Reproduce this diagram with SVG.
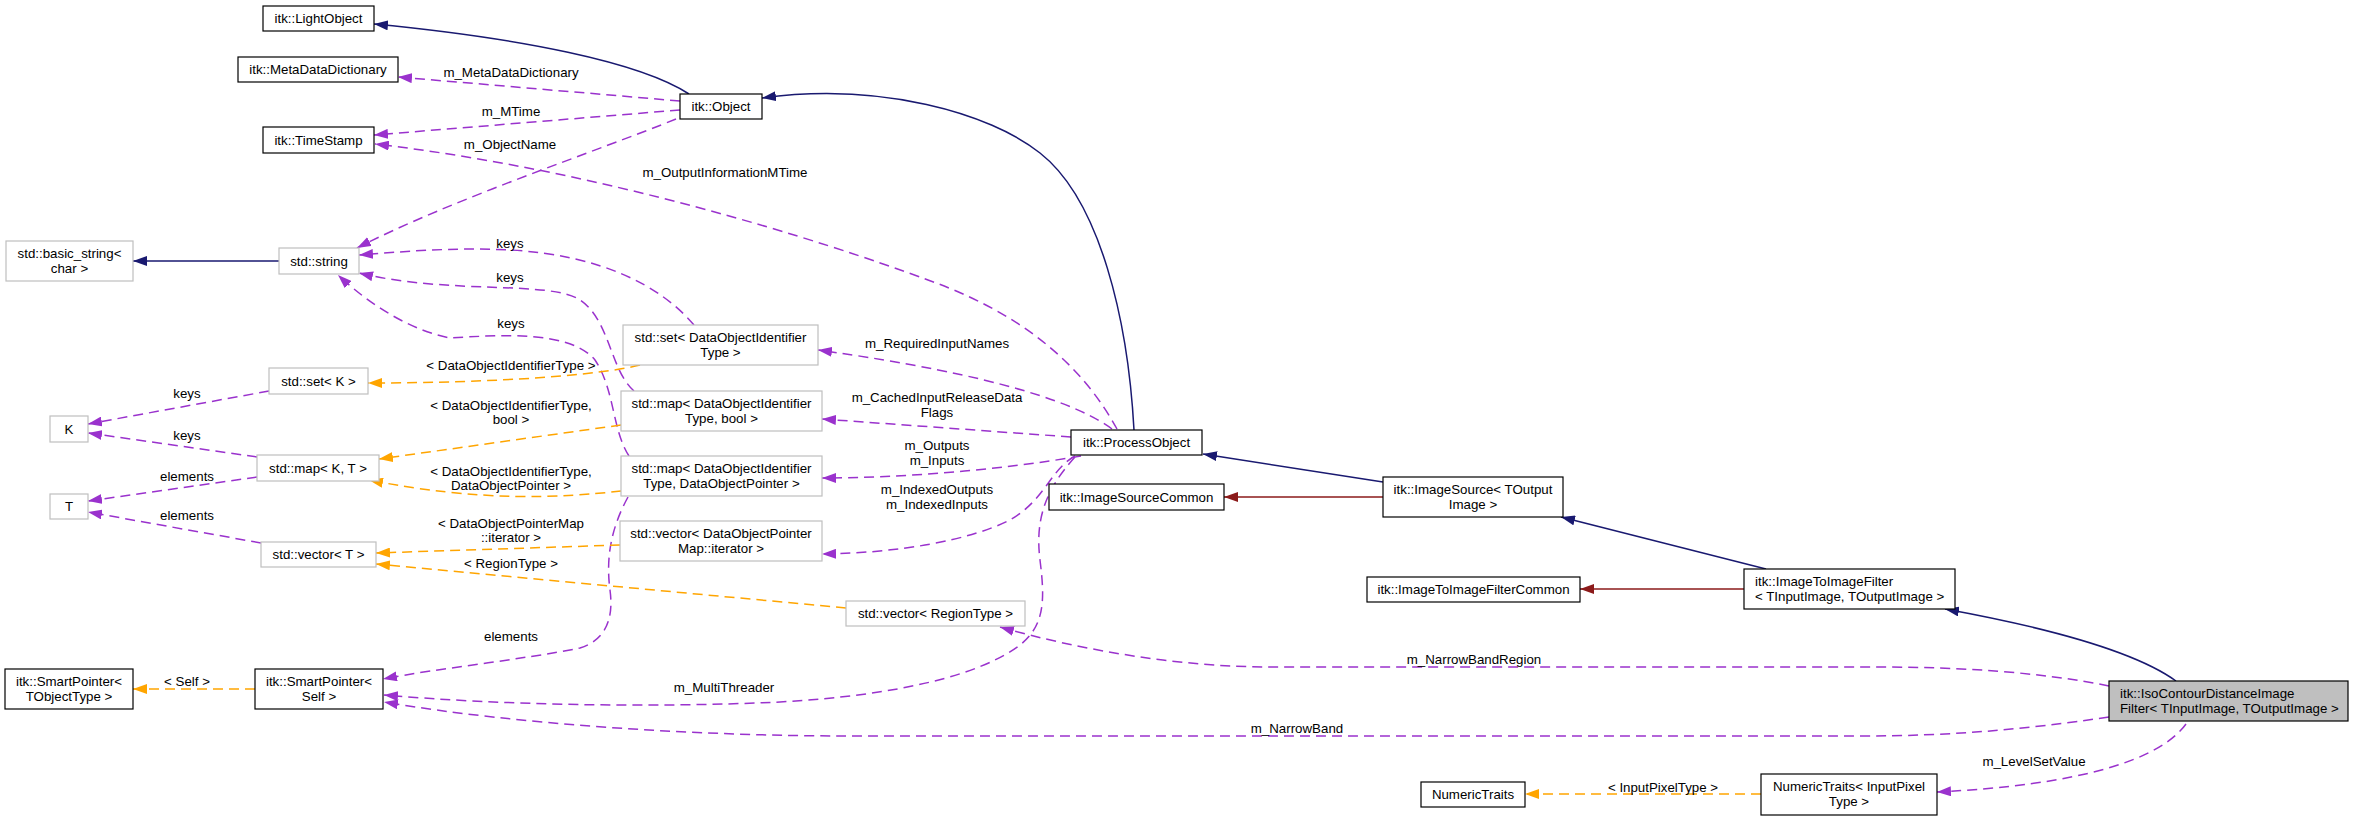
<svg xmlns="http://www.w3.org/2000/svg" width="2353" height="821" viewBox="0 0 2353 821">
<style>
text{font-family:"Liberation Sans",Arial,sans-serif;font-size:13.3px;fill:#000}
.c{text-anchor:middle}
.nb{fill:#fff;stroke:#000;stroke-width:1.2}
.ng{fill:#fff;stroke:#bfbfbf;stroke-width:1.2}
.nf{fill:#bfbfbf;stroke:#000;stroke-width:1.2}
.inh{fill:none;stroke:#191970;stroke-width:1.5;marker-end:url(#aBlue)}
.pri{fill:none;stroke:#8b1a1a;stroke-width:1.5;marker-end:url(#aRed)}
.use{fill:none;stroke:#9a32cd;stroke-width:1.5;stroke-dasharray:10,6;marker-end:url(#aPurple)}
.tpl{fill:none;stroke:#ffa500;stroke-width:1.5;stroke-dasharray:10,6;marker-end:url(#aOrange)}
</style>
<defs>
<marker id="aBlue" viewBox="0 0 14 10" refX="14" refY="5" markerWidth="14" markerHeight="10" markerUnits="userSpaceOnUse" orient="auto"><path d="M0,0 L14,5 L0,10 z" fill="#191970"/></marker>
<marker id="aRed" viewBox="0 0 14 10" refX="14" refY="5" markerWidth="14" markerHeight="10" markerUnits="userSpaceOnUse" orient="auto"><path d="M0,0 L14,5 L0,10 z" fill="#8b1a1a"/></marker>
<marker id="aPurple" viewBox="0 0 14 10" refX="14" refY="5" markerWidth="14" markerHeight="10" markerUnits="userSpaceOnUse" orient="auto"><path d="M0,0 L14,5 L0,10 z" fill="#9a32cd"/></marker>
<marker id="aOrange" viewBox="0 0 14 10" refX="14" refY="5" markerWidth="14" markerHeight="10" markerUnits="userSpaceOnUse" orient="auto"><path d="M0,0 L14,5 L0,10 z" fill="#ffa500"/></marker>
</defs>
<rect width="2353" height="821" fill="#fff"/>
<g id="connectors">
<path class="inh" d="M689,94 C640,62 520,38 374,24"/>
<path class="inh" d="M1134,430 C1128,320 1100,200 1040,153 C990,113 880,82 762,98"/>
<path class="inh" d="M279,261 L133,261"/>
<path class="inh" d="M1383,482 L1203,454"/>
<path class="inh" d="M1766,569 L1561,517"/>
<path class="inh" d="M2176,681 C2140,655 2060,630 1945,609"/>
<path class="pri" d="M1383,497 L1224,497"/>
<path class="pri" d="M1744,589 L1580,589"/>
<path class="use" d="M680,101 L398,77"/>
<path class="use" d="M680,110 L374,135"/>
<path class="use" d="M676,119 C600,150 450,200 357,248"/>
<path class="use" d="M1117,429 C1090,380 1040,320 928,280 C820,240 600,170 375,144"/>
<path class="use" d="M694,325 C660,285 600,255 510,250 C450,247 400,252 359,255"/>
<path class="use" d="M634,391 C610,370 610,320 580,300 C550,280 450,295 359,273"/>
<path class="use" d="M629,456 C612,430 615,390 595,360 C570,330 500,335 450,338 C410,330 370,305 338,275"/>
<path class="use" d="M269,391 L88,424"/>
<path class="use" d="M257,457 L88,433"/>
<path class="use" d="M257,477 L88,501"/>
<path class="use" d="M261,543 L88,512"/>
<path class="use" d="M1112,429 C1080,405 1000,375 818,350"/>
<path class="use" d="M1071,437 L822,419"/>
<path class="use" d="M1081,456 C1000,470 900,478 822,478"/>
<path class="use" d="M1075,456 C1050,470 1045,500 1010,520 C970,540 900,553 822,554"/>
<path class="use" d="M1075,457 C1045,490 1035,520 1040,560 C1045,600 1045,625 1020,645 C980,675 900,695 780,702 C650,708 500,705 384,695"/>
<path class="use" d="M628,497 C610,530 606,560 610,590 C614,620 605,640 580,648 C520,660 440,668 383,679"/>
<path class="use" d="M2109,686 C2040,672 1960,667 1880,667 L1270,667 C1180,667 1080,650 1000,627"/>
<path class="use" d="M2109,717 C2020,730 1950,736 1860,736 L850,736 C700,736 520,725 384,702"/>
<path class="use" d="M2186,724 C2160,760 2080,785 1937,792"/>
<path class="tpl" d="M640,365 C600,375 500,383 368,383"/>
<path class="tpl" d="M621,425 L379,459"/>
<path class="tpl" d="M621,491 C560,498 480,502 369,480"/>
<path class="tpl" d="M620,545 L376,553"/>
<path class="tpl" d="M846,608 L376,564"/>
<path class="tpl" d="M255,689 L133,689"/>
<path class="tpl" d="M1761,794 L1525,794"/>
<g id="edge-labels">
<text class="c" x="511" y="77">m_MetaDataDictionary</text>
<text class="c" x="511" y="116">m_MTime</text>
<text class="c" x="510" y="149">m_ObjectName</text>
<text class="c" x="725" y="177">m_OutputInformationMTime</text>
<text class="c" x="510" y="248">keys</text>
<text class="c" x="510" y="282">keys</text>
<text class="c" x="511" y="328">keys</text>
<text class="c" x="187" y="398">keys</text>
<text class="c" x="187" y="440">keys</text>
<text class="c" x="187" y="481">elements</text>
<text class="c" x="187" y="520">elements</text>
<text class="c" x="937" y="348">m_RequiredInputNames</text>
<text class="c" x="937" y="402">m_CachedInputReleaseData</text>
<text class="c" x="937" y="417">Flags</text>
<text class="c" x="937" y="450">m_Outputs</text>
<text class="c" x="937" y="465">m_Inputs</text>
<text class="c" x="937" y="494">m_IndexedOutputs</text>
<text class="c" x="937" y="509">m_IndexedInputs</text>
<text class="c" x="724" y="692">m_MultiThreader</text>
<text class="c" x="511" y="641">elements</text>
<text class="c" x="1474" y="664">m_NarrowBandRegion</text>
<text class="c" x="1297" y="733">m_NarrowBand</text>
<text class="c" x="2034" y="766">m_LevelSetValue</text>
<text class="c" x="511" y="370">&lt; DataObjectIdentifierType &gt;</text>
<text class="c" x="511" y="410">&lt; DataObjectIdentifierType,</text>
<text class="c" x="511" y="424">bool &gt;</text>
<text class="c" x="511" y="476">&lt; DataObjectIdentifierType,</text>
<text class="c" x="511" y="490">DataObjectPointer &gt;</text>
<text class="c" x="511" y="528">&lt; DataObjectPointerMap</text>
<text class="c" x="511" y="542">::iterator &gt;</text>
<text class="c" x="511" y="568">&lt; RegionType &gt;</text>
<text class="c" x="187" y="686">&lt; Self &gt;</text>
<text class="c" x="1663" y="792">&lt; InputPixelType &gt;</text>
</g>
</g>
<g id="n_LightObject"><rect class="nb" x="263" y="6" width="111" height="25"/><text class="c" x="318.5" y="23">itk::LightObject</text></g>
<g id="n_MetaDataDictionary"><rect class="nb" x="238" y="57" width="160" height="25"/><text class="c" x="318" y="74">itk::MetaDataDictionary</text></g>
<g id="n_TimeStamp"><rect class="nb" x="263" y="127" width="111" height="26"/><text class="c" x="318.5" y="144.5">itk::TimeStamp</text></g>
<g id="n_Object"><rect class="nb" x="680" y="94" width="82" height="25"/><text class="c" x="721" y="111">itk::Object</text></g>
<g id="n_basic_string"><rect class="ng" x="6" y="241" width="127" height="40"/><text class="c" x="69.5" y="258">std::basic_string&lt;</text><text class="c" x="69.5" y="273">char &gt;</text></g>
<g id="n_string"><rect class="ng" x="279" y="248" width="80" height="26"/><text class="c" x="319" y="265.5">std::string</text></g>
<g id="n_setDOIT"><rect class="ng" x="623" y="325" width="195" height="40"/><text class="c" x="720.5" y="342">std::set&lt; DataObjectIdentifier</text><text class="c" x="720.5" y="357">Type &gt;</text></g>
<g id="n_setK"><rect class="ng" x="269" y="368" width="99" height="26"/><text class="c" x="318.5" y="385.5">std::set&lt; K &gt;</text></g>
<g id="n_K"><rect class="ng" x="50" y="416" width="38" height="26"/><text class="c" x="69" y="433.5">K</text></g>
<g id="n_mapBool"><rect class="ng" x="621" y="391" width="201" height="40"/><text class="c" x="721.5" y="408">std::map&lt; DataObjectIdentifier</text><text class="c" x="721.5" y="423">Type, bool &gt;</text></g>
<g id="n_mapKT"><rect class="ng" x="257" y="455" width="122" height="26"/><text class="c" x="318" y="472.5">std::map&lt; K, T &gt;</text></g>
<g id="n_mapDOP"><rect class="ng" x="621" y="456" width="201" height="40"/><text class="c" x="721.5" y="473">std::map&lt; DataObjectIdentifier</text><text class="c" x="721.5" y="488">Type, DataObjectPointer &gt;</text></g>
<g id="n_T"><rect class="ng" x="50" y="494" width="38" height="25"/><text class="c" x="69" y="511">T</text></g>
<g id="n_vecDOPIt"><rect class="ng" x="620" y="521" width="202" height="40"/><text class="c" x="721" y="538">std::vector&lt; DataObjectPointer</text><text class="c" x="721" y="553">Map::iterator &gt;</text></g>
<g id="n_vecT"><rect class="ng" x="261" y="542" width="115" height="25"/><text class="c" x="318.5" y="559">std::vector&lt; T &gt;</text></g>
<g id="n_SPTObj"><rect class="nb" x="5" y="669" width="128" height="40"/><text class="c" x="69" y="686">itk::SmartPointer&lt;</text><text class="c" x="69" y="701">TObjectType &gt;</text></g>
<g id="n_SPSelf"><rect class="nb" x="255" y="669" width="128" height="40"/><text class="c" x="319" y="686">itk::SmartPointer&lt;</text><text class="c" x="319" y="701">Self &gt;</text></g>
<g id="n_ProcessObject"><rect class="nb" x="1071" y="430" width="131" height="25"/><text class="c" x="1136.5" y="447">itk::ProcessObject</text></g>
<g id="n_ImageSourceCommon"><rect class="nb" x="1049" y="484" width="175" height="26"/><text class="c" x="1136.5" y="501.5">itk::ImageSourceCommon</text></g>
<g id="n_ImageSource"><rect class="nb" x="1383" y="477" width="180" height="40"/><text class="c" x="1473" y="494">itk::ImageSource&lt; TOutput</text><text class="c" x="1473" y="509">Image &gt;</text></g>
<g id="n_vecRegion"><rect class="ng" x="846" y="601" width="179" height="25"/><text class="c" x="935.5" y="618">std::vector&lt; RegionType &gt;</text></g>
<g id="n_ITIFCommon"><rect class="nb" x="1367" y="577" width="213" height="25"/><text class="c" x="1473.5" y="594">itk::ImageToImageFilterCommon</text></g>
<g id="n_ITIF"><rect class="nb" x="1744" y="569" width="211" height="40"/><text x="1755" y="586">itk::ImageToImageFilter</text><text x="1755" y="601">&lt; TInputImage, TOutputImage &gt;</text></g>
<g id="n_Iso"><rect class="nf" x="2109" y="681" width="239" height="40"/><text x="2120" y="698">itk::IsoContourDistanceImage</text><text x="2120" y="713">Filter&lt; TInputImage, TOutputImage &gt;</text></g>
<g id="n_NumericTraits"><rect class="nb" x="1421" y="782" width="104" height="25"/><text class="c" x="1473" y="799">NumericTraits</text></g>
<g id="n_NTInput"><rect class="nb" x="1761" y="774" width="176" height="41"/><text class="c" x="1849" y="791">NumericTraits&lt; InputPixel</text><text class="c" x="1849" y="806">Type &gt;</text></g>
</svg>
